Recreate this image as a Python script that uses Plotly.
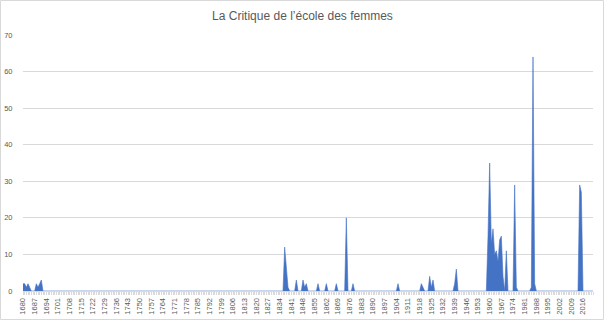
import plotly.graph_objects as go

# Category axis (years) and the non-zero yearly values
first_year = 1680
last_year = 2022
peak_years = [1680, 1681, 1682, 1683, 1684,
              1688, 1689, 1690, 1691,
              1837, 1838, 1839, 1844, 1848, 1849, 1850, 1857, 1862, 1868,
              1874, 1878, 1905, 1919, 1920, 1924, 1925, 1926, 1939, 1940,
              1959, 1960, 1961, 1962, 1963, 1964, 1965, 1966, 1967, 1968,
              1970, 1975, 1976, 1985, 1986, 1987, 2014, 2015]
peak_values = [2, 2, 1, 2, 1,
               2, 1, 2, 3,
               12, 5, 1, 3, 3, 1, 2, 2, 2, 2,
               20, 2, 2, 2, 1, 4, 1, 3, 2, 6,
               15, 35, 13, 17, 10, 11, 8, 14, 15, 4,
               11, 29, 1, 1, 64, 2, 29, 27]
tick_years = list(range(1680, 2017, 7))
title_text = "La Critique de l\u2019\u00e9cole des femmes"

years = list(range(first_year, last_year + 1))
lookup = dict(zip(peak_years, peak_values))
values = [lookup.get(y, 0) for y in years]

blue = "#4472C4"
grid = "#d9d9d9"
txt = "#595959"

fig = go.Figure()
fig.add_trace(go.Scatter(
    x=years, y=values, mode="lines", fill="tozeroy",
    line=dict(color=blue, width=0.6), fillcolor=blue,
    hoverinfo="x+y", showlegend=False))

L, R, T, B = 23, 12, 35, 30
W, H = 605, 321
pw = W - L - R
ph = H - T - B

fig.update_layout(
    width=W, height=H,
    margin=dict(l=L, r=R, t=T, b=B),
    paper_bgcolor="white", plot_bgcolor="white",
    title=dict(text=title_text, x=0.5, xref="container", y=1 - 16 / H,
               yref="container", xanchor="center", yanchor="middle",
               font=dict(family="Liberation Sans", size=12, color=txt)),
    font=dict(family="Liberation Sans", color=txt),
    xaxis=dict(
        range=[first_year, last_year], tickmode="array", tickvals=tick_years,
        ticktext=[str(y) for y in tick_years], tickangle=-90,
        tickfont=dict(size=7.5, color=txt), showgrid=False,
        showline=True, linecolor=grid, linewidth=1,
        ticks="outside", ticklen=3, tickcolor=grid,
        minor=dict(dtick=1, tick0=first_year, ticks="outside", ticklen=3,
                   tickcolor=grid, showgrid=False),
        zeroline=False, fixedrange=True, automargin=False),
    yaxis=dict(
        range=[0, 70], dtick=10, tick0=0, showgrid=True, gridcolor=grid,
        gridwidth=1, zeroline=False, showline=False,
        tickfont=dict(size=7.5, color=txt), ticks="outside", ticklen=8,
        tickcolor="rgba(0,0,0,0)", fixedrange=True, automargin=False),
    shapes=[dict(type="rect", xref="paper", yref="paper",
                 x0=(0.5 - L) / pw, x1=(W - 1.5 - L) / pw,
                 y0=(H - B - (H - 1.5)) / ph, y1=(H - B - 0.5) / ph,
                 line=dict(color=grid, width=1), fillcolor="rgba(0,0,0,0)",
                 layer="below")],
)

fig.write_html("out.html")
